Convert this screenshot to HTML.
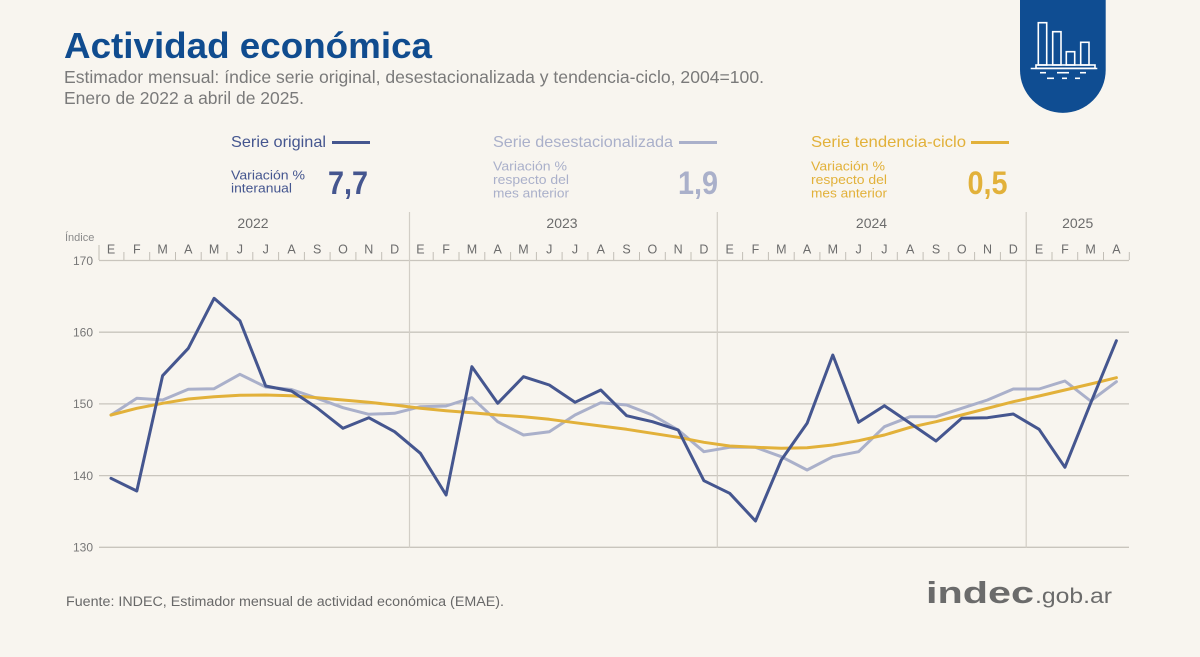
<!DOCTYPE html>
<html>
<head>
<meta charset="utf-8">
<style>
html,body{margin:0;padding:0;background:#f8f5ef;}
svg{display:block;}
text{font-family:"Liberation Sans",Arial,sans-serif;}
</style>
</head>
<body>
<svg width="1200" height="657" viewBox="0 0 1200 657" xmlns="http://www.w3.org/2000/svg">
<rect x="0" y="0" width="1200" height="657" fill="#f8f5ef"/>

<!-- Badge -->
<path d="M1020 0 L1020 70 A42.85 42.85 0 0 0 1105.7 70 L1105.7 0 Z" fill="#0f4d92"/>
<g fill="none" stroke="#ffffff" stroke-width="1.6">
  <rect x="1038.3" y="22.7" width="8.4" height="42.3"/>
  <rect x="1052.7" y="31.7" width="8.3" height="33.3"/>
  <rect x="1066.3" y="51.7" width="8.4" height="13.3"/>
  <rect x="1080.7" y="42.3" width="8.3" height="22.7"/>
  <rect x="1036" y="65" width="59" height="3.3"/>
  <line x1="1030.7" y1="68.5" x2="1097.3" y2="68.5"/>
  <line x1="1040" y1="72.7" x2="1046" y2="72.7"/>
  <line x1="1057" y1="72.7" x2="1069" y2="72.7"/>
  <line x1="1080" y1="72.7" x2="1086" y2="72.7"/>
  <line x1="1047" y1="78.3" x2="1054" y2="78.3"/>
  <line x1="1062" y1="78.3" x2="1067" y2="78.3"/>
  <line x1="1075" y1="78.3" x2="1080" y2="78.3"/>
</g>

<!-- Title -->
<text x="64" y="58" font-size="36" font-weight="bold" fill="#104c8f" textLength="368" lengthAdjust="spacingAndGlyphs">Actividad económica</text>
<text x="64" y="83" font-size="17.5" fill="#7a7a7a" textLength="700" lengthAdjust="spacingAndGlyphs">Estimador mensual: índice serie original, desestacionalizada y tendencia-ciclo, 2004=100.</text>
<text x="64" y="104" font-size="17.5" fill="#7a7a7a" textLength="240" lengthAdjust="spacingAndGlyphs">Enero de 2022 a abril de 2025.</text>

<!-- Legend -->
<text x="231" y="147" font-size="16" fill="#45568f" textLength="95" lengthAdjust="spacingAndGlyphs">Serie original</text>
<line x1="332" y1="142.5" x2="370" y2="142.5" stroke="#45568f" stroke-width="3"/>
<text x="231" y="179.5" font-size="13" fill="#45568f" textLength="74" lengthAdjust="spacingAndGlyphs">Variación %</text>
<text x="231" y="192.5" font-size="13" fill="#45568f" textLength="61" lengthAdjust="spacingAndGlyphs">interanual</text>
<text x="328" y="194" font-size="32" font-weight="bold" fill="#45568f" textLength="40" lengthAdjust="spacingAndGlyphs">7,7</text>

<text x="493" y="147" font-size="16" fill="#aab0ca" textLength="180" lengthAdjust="spacingAndGlyphs">Serie desestacionalizada</text>
<line x1="679" y1="142.5" x2="717" y2="142.5" stroke="#aab0ca" stroke-width="3"/>
<text x="493" y="170.5" font-size="13" fill="#aab0ca" textLength="74" lengthAdjust="spacingAndGlyphs">Variación %</text>
<text x="493" y="184" font-size="13" fill="#aab0ca" textLength="76" lengthAdjust="spacingAndGlyphs">respecto del</text>
<text x="493" y="197.5" font-size="13" fill="#aab0ca" textLength="76" lengthAdjust="spacingAndGlyphs">mes anterior</text>
<text x="678" y="194" font-size="32" font-weight="bold" fill="#aab0ca" textLength="40" lengthAdjust="spacingAndGlyphs">1,9</text>

<text x="811" y="147" font-size="16" fill="#e2b13a" textLength="155" lengthAdjust="spacingAndGlyphs">Serie tendencia-ciclo</text>
<line x1="971" y1="142.5" x2="1009" y2="142.5" stroke="#e2b13a" stroke-width="3"/>
<text x="811" y="170.5" font-size="13" fill="#e2b13a" textLength="74" lengthAdjust="spacingAndGlyphs">Variación %</text>
<text x="811" y="184" font-size="13" fill="#e2b13a" textLength="76" lengthAdjust="spacingAndGlyphs">respecto del</text>
<text x="811" y="197.5" font-size="13" fill="#e2b13a" textLength="76" lengthAdjust="spacingAndGlyphs">mes anterior</text>
<text x="967.5" y="194" font-size="32" font-weight="bold" fill="#e2b13a" textLength="40" lengthAdjust="spacingAndGlyphs">0,5</text>

<!-- Gridlines -->
<g stroke="#c9c5bd" stroke-width="1.3">
  <line x1="99" y1="260.5" x2="1129" y2="260.5"/>
  <line x1="99" y1="332.2" x2="1129" y2="332.2"/>
  <line x1="99" y1="403.9" x2="1129" y2="403.9"/>
  <line x1="99" y1="475.6" x2="1129" y2="475.6"/>
  <line x1="99" y1="547.3" x2="1129" y2="547.3"/>
</g>
<!-- Year dividers -->
<g stroke="#d2cec6" stroke-width="1.2">
  <line x1="409.5" y1="212" x2="409.5" y2="548"/>
  <line x1="717.3" y1="212" x2="717.3" y2="548"/>
  <line x1="1026.2" y1="212" x2="1026.2" y2="548"/>
</g>
<!-- Month ticks -->
<g stroke="#c2beb6" stroke-width="1">
  <line x1="99" y1="245" x2="99" y2="260"/>
  <line x1="123.9" y1="252" x2="123.9" y2="260"/>
  <line x1="149.7" y1="252" x2="149.7" y2="260"/>
  <line x1="175.5" y1="252" x2="175.5" y2="260"/>
  <line x1="201.2" y1="252" x2="201.2" y2="260"/>
  <line x1="227.0" y1="252" x2="227.0" y2="260"/>
  <line x1="252.8" y1="252" x2="252.8" y2="260"/>
  <line x1="278.6" y1="252" x2="278.6" y2="260"/>
  <line x1="304.4" y1="252" x2="304.4" y2="260"/>
  <line x1="330.1" y1="252" x2="330.1" y2="260"/>
  <line x1="355.9" y1="252" x2="355.9" y2="260"/>
  <line x1="381.7" y1="252" x2="381.7" y2="260"/>
  <line x1="433.2" y1="252" x2="433.2" y2="260"/>
  <line x1="459.0" y1="252" x2="459.0" y2="260"/>
  <line x1="484.8" y1="252" x2="484.8" y2="260"/>
  <line x1="510.6" y1="252" x2="510.6" y2="260"/>
  <line x1="536.4" y1="252" x2="536.4" y2="260"/>
  <line x1="562.1" y1="252" x2="562.1" y2="260"/>
  <line x1="587.9" y1="252" x2="587.9" y2="260"/>
  <line x1="613.7" y1="252" x2="613.7" y2="260"/>
  <line x1="639.5" y1="252" x2="639.5" y2="260"/>
  <line x1="665.3" y1="252" x2="665.3" y2="260"/>
  <line x1="691.0" y1="252" x2="691.0" y2="260"/>
  <line x1="742.6" y1="252" x2="742.6" y2="260"/>
  <line x1="768.4" y1="252" x2="768.4" y2="260"/>
  <line x1="794.2" y1="252" x2="794.2" y2="260"/>
  <line x1="819.9" y1="252" x2="819.9" y2="260"/>
  <line x1="845.7" y1="252" x2="845.7" y2="260"/>
  <line x1="871.5" y1="252" x2="871.5" y2="260"/>
  <line x1="897.3" y1="252" x2="897.3" y2="260"/>
  <line x1="923.1" y1="252" x2="923.1" y2="260"/>
  <line x1="948.8" y1="252" x2="948.8" y2="260"/>
  <line x1="974.6" y1="252" x2="974.6" y2="260"/>
  <line x1="1000.4" y1="252" x2="1000.4" y2="260"/>
  <line x1="1052.0" y1="252" x2="1052.0" y2="260"/>
  <line x1="1077.7" y1="252" x2="1077.7" y2="260"/>
  <line x1="1103.5" y1="252" x2="1103.5" y2="260"/>
  <line x1="1129.3" y1="252" x2="1129.3" y2="260"/>
</g>

<!-- Year labels -->
<g font-size="14" fill="#6c6c6c" text-anchor="middle">
  <text x="253" y="228">2022</text>
  <text x="562" y="228">2023</text>
  <text x="871.5" y="228">2024</text>
  <text x="1077.7" y="228">2025</text>
</g>

<!-- Month labels -->
<g font-size="12.5" fill="#6c6c6c" text-anchor="middle">
  <text x="111.0" y="253.5">E</text><text x="136.8" y="253.5">F</text><text x="162.6" y="253.5">M</text><text x="188.3" y="253.5">A</text>
  <text x="214.1" y="253.5">M</text><text x="239.9" y="253.5">J</text><text x="265.7" y="253.5">J</text><text x="291.5" y="253.5">A</text>
  <text x="317.2" y="253.5">S</text><text x="343.0" y="253.5">O</text><text x="368.8" y="253.5">N</text><text x="394.6" y="253.5">D</text>
  <text x="420.4" y="253.5">E</text><text x="446.1" y="253.5">F</text><text x="471.9" y="253.5">M</text><text x="497.7" y="253.5">A</text>
  <text x="523.5" y="253.5">M</text><text x="549.3" y="253.5">J</text><text x="575.0" y="253.5">J</text><text x="600.8" y="253.5">A</text>
  <text x="626.6" y="253.5">S</text><text x="652.4" y="253.5">O</text><text x="678.2" y="253.5">N</text><text x="703.9" y="253.5">D</text>
  <text x="729.7" y="253.5">E</text><text x="755.5" y="253.5">F</text><text x="781.3" y="253.5">M</text><text x="807.1" y="253.5">A</text>
  <text x="832.8" y="253.5">M</text><text x="858.6" y="253.5">J</text><text x="884.4" y="253.5">J</text><text x="910.2" y="253.5">A</text>
  <text x="936.0" y="253.5">S</text><text x="961.7" y="253.5">O</text><text x="987.5" y="253.5">N</text><text x="1013.3" y="253.5">D</text>
  <text x="1039.1" y="253.5">E</text><text x="1064.9" y="253.5">F</text><text x="1090.6" y="253.5">M</text><text x="1116.4" y="253.5">A</text>
</g>

<!-- Y axis labels -->
<text x="65" y="241" font-size="11" fill="#8a8a8a">Índice</text>
<g font-size="12" fill="#777777" text-anchor="end">
  <text x="93" y="265">170</text>
  <text x="93" y="336.5">160</text>
  <text x="93" y="408">150</text>
  <text x="93" y="480">140</text>
  <text x="93" y="551.5">130</text>
</g>

<!-- Series -->
<g fill="none" stroke-width="3" stroke-linejoin="round" stroke-linecap="round">
<polyline stroke="#aab0ca" points="111.0,415 136.8,398.3 162.6,400 188.3,389.3 214.1,388.7 239.9,374.3 265.7,387 291.5,389.5 317.2,398.3 343.0,407.7 368.8,414.3 394.6,413.3 420.4,406.7 446.1,406 471.9,397.7 497.7,421.7 523.5,435 549.3,431.7 575.0,415 600.8,402.7 626.6,405 652.4,415 678.2,430 703.9,451.7 729.7,447.3 755.5,447.3 781.3,456.7 807.1,470 832.8,456.7 858.6,451.7 884.4,426.7 910.2,416.7 936.0,416.7 961.7,408.3 987.5,400 1013.3,389 1039.1,389 1064.9,381 1090.6,401 1116.4,381.7"/>
<polyline stroke="#e2b13a" points="111.0,415 136.8,408.3 162.6,403.3 188.3,399 214.1,396.7 239.9,395.3 265.7,395 291.5,395.7 317.2,397.7 343.0,400 368.8,402.3 394.6,405 420.4,408.3 446.1,410.7 471.9,412.7 497.7,415 523.5,416.7 549.3,419.3 575.0,422.7 600.8,426 626.6,429.3 652.4,433.3 678.2,437.3 703.9,442.3 729.7,446 755.5,447.3 781.3,448.3 807.1,447.7 832.8,445 858.6,440.7 884.4,435 910.2,427.3 936.0,421.7 961.7,415 987.5,408.3 1013.3,401.7 1039.1,396 1064.9,390 1090.6,384 1116.4,377.7"/>
<polyline stroke="#45568f" points="111.0,478.3 136.8,491 162.6,375.7 188.3,348.3 214.1,298.3 239.9,320.7 265.7,386 291.5,391 317.2,408 343.0,428.3 368.8,417.7 394.6,431.7 420.4,453.3 446.1,495 471.9,366.7 497.7,403.3 523.5,376.7 549.3,385 575.0,402.3 600.8,390 626.6,415.7 652.4,421.7 678.2,430 703.9,480.7 729.7,493.3 755.5,521 781.3,460 807.1,423.3 832.8,355 858.6,422.3 884.4,405.7 910.2,423.3 936.0,441 961.7,418.3 987.5,417.7 1013.3,414 1039.1,429.3 1064.9,467.3 1090.6,403.3 1116.4,340.7"/>
</g>

<!-- Footer -->
<text x="66" y="606" font-size="13.5" fill="#686868" textLength="438" lengthAdjust="spacingAndGlyphs">Fuente: INDEC, Estimador mensual de actividad económica (EMAE).</text>

<!-- Logo -->
<text x="926" y="603" font-size="31" font-weight="bold" fill="#6b6b6b" textLength="108" lengthAdjust="spacingAndGlyphs">indec</text>
<text x="1035" y="603" font-size="21" fill="#6b6b6b" textLength="77" lengthAdjust="spacingAndGlyphs">.gob.ar</text>
</svg>
</body>
</html>
